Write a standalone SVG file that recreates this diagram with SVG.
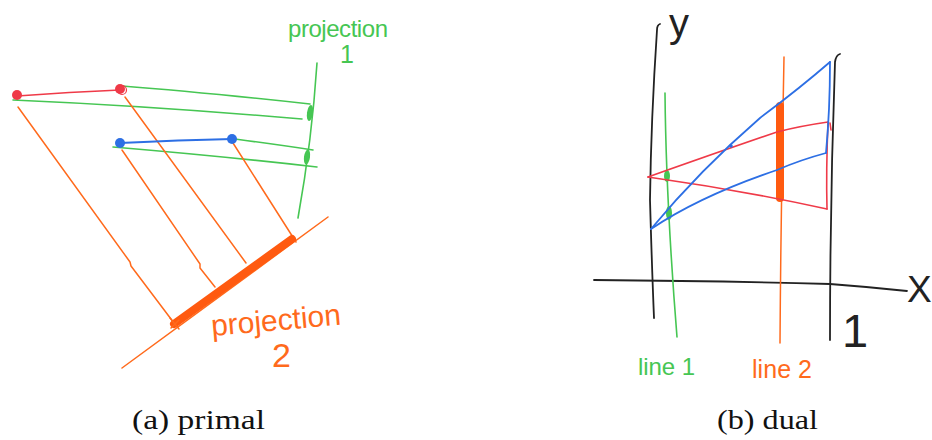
<svg xmlns="http://www.w3.org/2000/svg" width="932" height="440" viewBox="0 0 932 440">
<style>
.ln{fill:none;stroke-linecap:round;stroke-linejoin:round}
.r{stroke:#ef3a48;stroke-width:1.6}
.g{stroke:#46c653;stroke-width:1.6}
.b{stroke:#2d6fe4;stroke-width:1.8}
.o{stroke:#ff6a1c;stroke-width:1.5}
.k{stroke:#222;stroke-width:1.8}
.hand{font-family:"Liberation Sans","DejaVu Sans",sans-serif}
.cap{font-family:"Liberation Serif","DejaVu Serif",serif;font-size:28px;fill:#111}
</style>
<rect width="932" height="440" fill="#fff"/>
<g id="primal">
<g id="connectors-primal">
<path class="ln g" d="M122,86 Q200,92 310,104"/>
<path class="ln g" d="M13,100 Q150,106 302,119"/>
<path class="ln g" d="M235,139 Q280,145 313,150"/>
<path class="ln g" d="M113,147 Q220,156 317,167"/>
<path class="ln o" d="M18,107 L130,262 L131,266 L174,323"/>
<path class="ln o" d="M122,150 L200,264 L200,268 L215,287"/>
<path class="ln o" d="M125,97 L246,263"/>
<path class="ln o" d="M233,143 L296,242"/>
</g>
<g id="projection1">
<path class="ln g" d="M317,63 Q312,140 298,218"/>
<ellipse cx="310" cy="113" rx="3" ry="8" fill="#46c653" transform="rotate(8 310 113)"/>
<ellipse cx="307" cy="157" rx="3" ry="7.5" fill="#46c653" transform="rotate(8 307 157)"/>
<text class="hand" x="288" y="37" font-size="24" fill="#46c653" textLength="100">projection</text>
<text class="hand" x="340" y="63" font-size="25" fill="#46c653">1</text>
</g>
<g id="projection2">
<path class="ln o" d="M122,368 L328,217"/>
<path d="M174,324 L292,239" stroke="#ff5a10" stroke-width="8" stroke-linecap="round"/>
<path class="ln o" d="M170,318 L179,329 M171,328 L179,320"/>
<text class="hand" font-size="30" fill="#ff6a1c" transform="translate(212,336) rotate(-5)" textLength="130">projection</text>
<text class="hand" x="272" y="367" font-size="34" fill="#ff6a1c">2</text>
</g>
<g id="red-segment">
<path class="ln r" d="M17,96 Q70,92 120,90" stroke-width="2"/>
<circle cx="17" cy="95" r="5" fill="#ef3a48"/>
<circle cx="120" cy="89" r="5" fill="#ef3a48"/>
<circle cx="122" cy="90" r="4.5" fill="none" stroke="#ef3a48" stroke-width="1.2"/>
</g>
<g id="blue-segment">
<path class="ln b" d="M120,143 Q180,140 232,139" stroke-width="2"/>
<circle cx="120" cy="143" r="5" fill="#2d6fe4"/>
<circle cx="232" cy="139" r="5" fill="#2d6fe4"/>
</g>
<text class="cap" x="132" y="429" textLength="133" lengthAdjust="spacingAndGlyphs">(a) primal</text>
</g>
<g id="dual">
<g id="axes">
<path class="ln k" d="M660,24 Q657,25 657,30 Q651,120 650,200 Q652,270 654,318"/>
<path class="ln k" d="M840,54 Q836,55 835,62 Q830,200 830,340"/>
<path class="ln k" d="M594,280 Q720,281 830,284 Q870,287 907,291"/>
<text class="hand" x="669" y="37" font-size="40" fill="#222">y</text>
<text class="hand" x="907" y="302" font-size="37" fill="#222">X</text>
<text class="hand" x="842" y="347" font-size="47" fill="#222">1</text>
</g>
<g id="line1">
<path class="ln g" d="M665,93 Q666,200 677,337"/>
<ellipse cx="667" cy="176" rx="3" ry="6" fill="#46c653"/>
<ellipse cx="669" cy="213" rx="3" ry="7" fill="#46c653"/>
<text class="hand" x="638" y="375" font-size="24" fill="#46c653" textLength="57">line 1</text>
</g>
<g id="line2">
<path class="ln o" d="M784,57 Q781,200 780,343"/>
<path d="M780,106 L780,198" stroke="#ff5a10" stroke-width="8" stroke-linecap="round"/>
<text class="hand" x="752" y="378" font-size="25" fill="#ff6a1c" textLength="60">line 2</text>
</g>
<g id="connectors-dual">
<path class="ln r" d="M648,177 Q730,148 777,132 Q800,126 828,122"/>
<path class="ln r" d="M648,177 Q740,190 827,209"/>
<path class="ln r" d="M828,122 Q826,170 827,209"/>
<path class="ln r" d="M830,123 L831,130"/>
<path class="ln b" d="M651,229 Q700,170 760,118 Q800,88 830,62"/>
<path class="ln b" d="M651,229 Q700,196 777,170 Q800,160 826,153"/>
<path class="ln b" d="M830,62 Q830,110 826,153"/>
<circle cx="731" cy="146" r="1.8" fill="#2d6fe4"/>
</g>
<text class="cap" x="717" y="429" textLength="101" lengthAdjust="spacingAndGlyphs">(b) dual</text>
</g>
</svg>
